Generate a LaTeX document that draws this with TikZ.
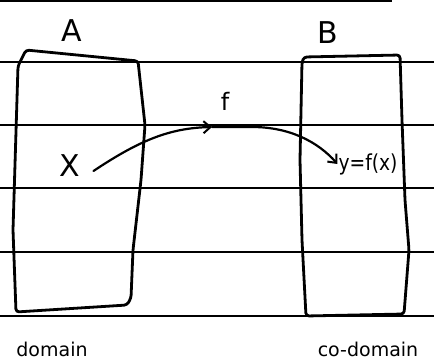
\documentclass[tikz,border=0pt]{standalone}
\usepackage{fontspec}
\setmainfont{DejaVu Sans}
\usetikzlibrary{arrows.meta}
\begin{document}
\begin{tikzpicture}[x=1pt,y=-1pt,
  rule/.style={line width=1.3pt,black},
  boxline/.style={line width=2.8pt,black,line join=round,line cap=round,rounded corners=3pt},
  lbl/.style={font=\fontsize{30}{30}\selectfont,inner sep=1pt},
  mid/.style={font=\fontsize{24}{24}\selectfont,inner sep=1pt},
  small/.style={font=\fontsize{19}{19}\selectfont,inner sep=1pt},
  maparrow/.style={line width=2.2pt,line cap=round,-{Straight Barb[length=7pt,width=12pt,line width=2pt]}}]
\useasboundingbox (0,0) rectangle (434,361);
% top edge of page
\draw[line width=3pt] (0,1) -- (392,1);
% ruled lines
\foreach \y in {62,125,188,252,316}
  \draw[rule] (0,\y) -- (434,\y);
% box A
\draw[boxline] (26,50) -- (138,61) -- (145,125) -- (141,180) -- (133,250) -- (131,298) -- (127,305) -- (16,312) -- (13,230) -- (18,66) -- cycle;
% box B
\draw[boxline] (304,57) -- (400,55) -- (402,120) -- (405,200) -- (409,250) -- (404,314) -- (306,316) -- (302,240) -- (300,160) -- (302,62) -- cycle;
% labels
\node[lbl] (A) at (72,31) {A};
\node[lbl] (B) at (328,33) {B};
\node[lbl] (x) at (70,166) {X};
\node[mid] (f) at (225,101) {f};
\node[small,font=\fontsize{22}{22}\selectfont,xscale=0.85] (y) at (368,164) {y=f(x)};
\node[small] (dom) at (52,349) {domain};
\node[small] (cod) at (368,349) {co-domain};
% mapping arrow
\coordinate (mid) at (212,127);
\draw[maparrow] (x.east) ++(12,5) .. controls (140,140) and (170,128) .. (mid);
\draw[maparrow] (mid) -- (252,127) .. controls (290,127) and (318,142) .. (y.west);
\end{tikzpicture}
\end{document}
